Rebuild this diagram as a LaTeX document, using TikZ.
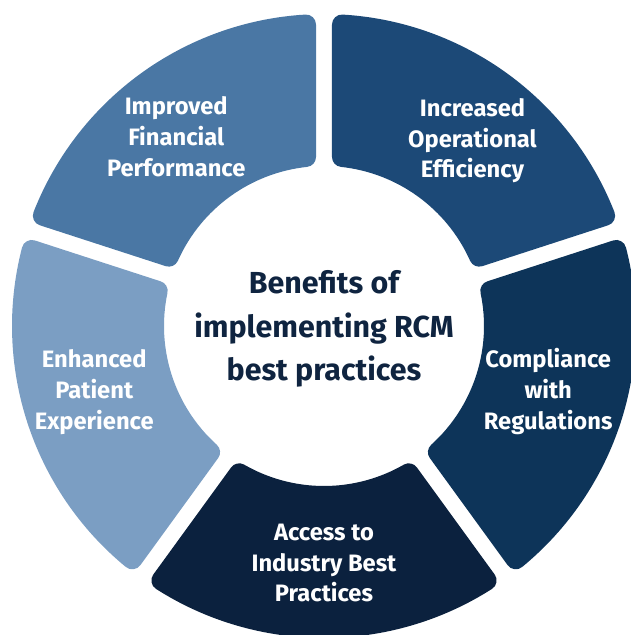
\documentclass[tikz,border=0pt]{standalone}
\usepackage{fontspec}
\setmainfont{Fira Sans}
\usetikzlibrary{positioning}

\definecolor{finblue}{HTML}{4A77A4}
\definecolor{effblue}{HTML}{1C4977}
\definecolor{regblue}{HTML}{0D3459}
\definecolor{accblue}{HTML}{0B213E}
\definecolor{patblue}{HTML}{7B9EC3}
\definecolor{hubtext}{HTML}{0F2440}

\tikzset{
    ring segment/.style={
        fill=#1,
        draw=#1,
        line width=4mm,
        line join=round,
    },
    segment label/.style={
        text=white,
        align=center,
        inner sep=0,
        font=\bfseries\fontsize{13.5}{17.6}\selectfont,
    },
    hub label/.style={
        text=hubtext,
        align=center,
        inner sep=0,
        font=\bfseries\fontsize{17.3}{24.6}\selectfont,
    },
}

\begin{document}
\begin{tikzpicture}
    \useasboundingbox (-6.48,-6.18) rectangle (6.14,6.52);
    \clip (-6.48,-6.18) rectangle (6.14,6.52);

    % radii and gap offset, already pulled in by the 2mm corner stroke
    \newcommand\OuterR{6.04}
    \newcommand\InnerR{3.40}
    \newcommand\Inset{0.36}

    \foreach \name/\start/\col/\pos/\txt in {
        financial/90/finblue/128:4.8/{Improved\\Financial\\Performance},
        efficiency/18/effblue/51.3:4.75/{Increased\\Operational\\Efficiency},
        compliance/-54/regblue/-16.2:4.67/{Compliance\\with\\Regulations},
        access/-126/accblue/-90:4.74/{Access to\\Industry Best\\Practices},
        patient/162/patblue/196:4.78/{Enhanced\\Patient\\Experience}}
    {
        \pgfmathsetmacro\dOut{asin(\Inset/\OuterR)}
        \pgfmathsetmacro\dIn{asin(\Inset/\InnerR)}
        \pgfmathsetmacro\aOne{\start+\dOut}
        \pgfmathsetmacro\aTwo{\start+72-\dOut}
        \pgfmathsetmacro\bOne{\start+72-\dIn}
        \pgfmathsetmacro\bTwo{\start+\dIn}
        \draw[ring segment=\col] (\aOne:\OuterR)
            arc[start angle=\aOne, end angle=\aTwo, radius=\OuterR]
            -- (\bOne:\InnerR)
            arc[start angle=\bOne, end angle=\bTwo, radius=\InnerR]
            -- cycle;
        \node[segment label] (\name) at (\pos) {\txt};
    }

    \node[hub label] (hub) at (0,-0.06) {Benefits of\\implementing RCM\\best practices};

\end{tikzpicture}
\end{document}
